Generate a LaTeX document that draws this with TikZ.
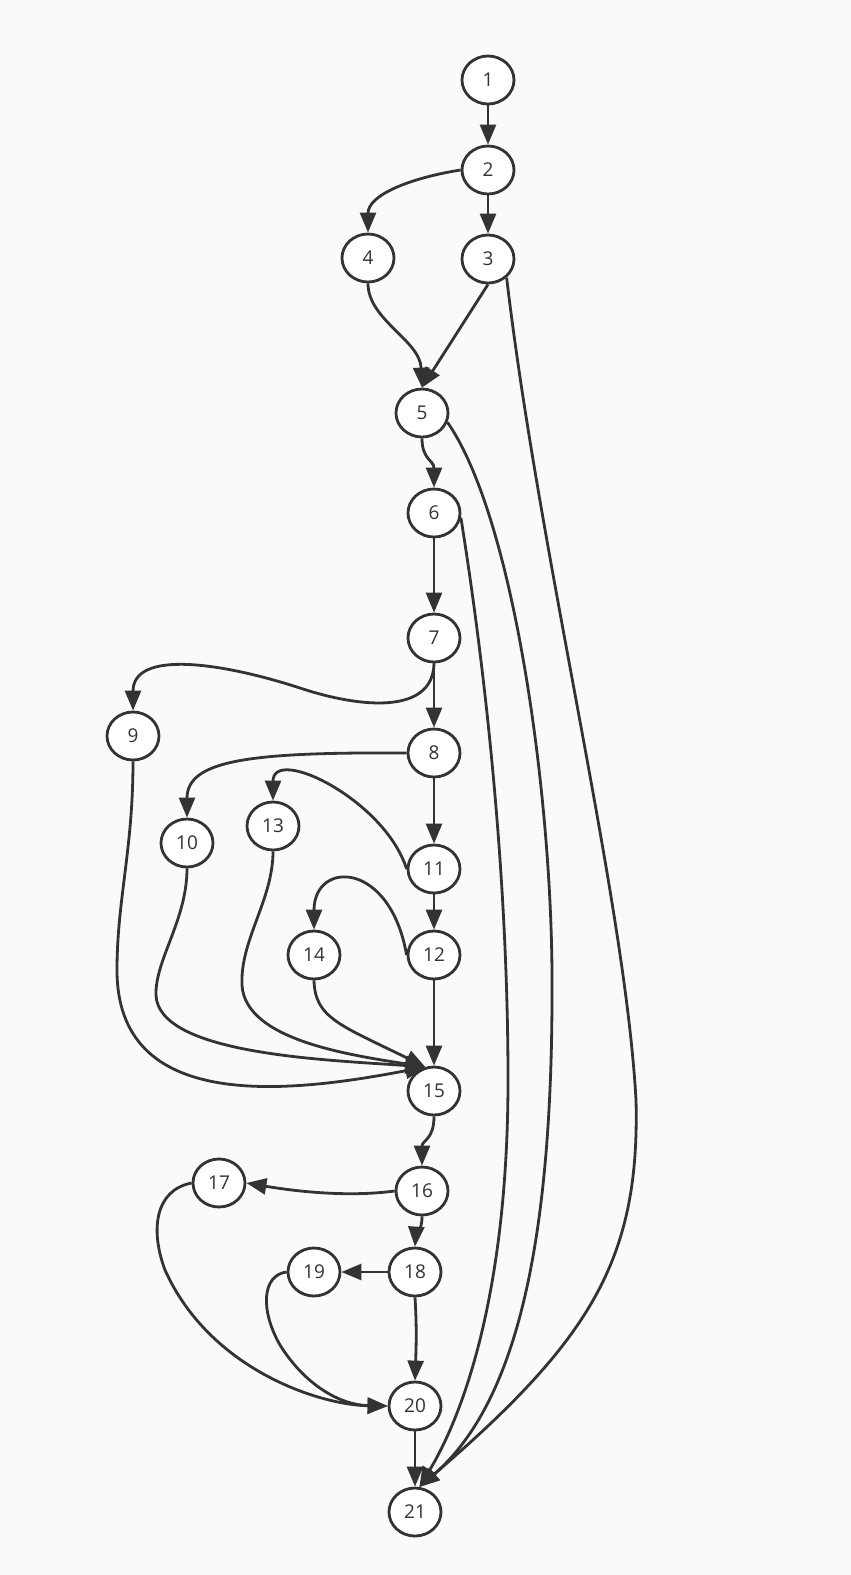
\documentclass[tikz,border=0pt]{standalone}
\usepackage{fontspec}
\setmainfont{Open Sans}
\usetikzlibrary{arrows.meta,shapes.geometric}
\definecolor{bgcol}{HTML}{FAFAFA}
\definecolor{ink}{HTML}{333333}
\tikzset{
  vtx/.style={ellipse,draw=ink,fill=white,line width=2.8pt,minimum width=52pt,minimum height=48pt,inner sep=0pt,text=ink,font=\fontsize{19pt}{21pt}\selectfont},
  edge/.style={draw=ink,line width=2.8pt,-{Triangle[length=20pt,width=16pt]}}
}
\begin{document}
\begin{tikzpicture}[x=1pt,y=-1pt]
\fill[bgcol] (0,0) rectangle (851,1575);
\useasboundingbox (0,0) rectangle (851,1575);
\node[vtx] (n1) at (488,80) {1};
\node[vtx] (n2) at (488,170) {2};
\node[vtx] (n3) at (488,259) {3};
\node[vtx] (n4) at (368,258) {4};
\node[vtx] (n5) at (422,413) {5};
\node[vtx] (n6) at (434,513) {6};
\node[vtx] (n7) at (434,638) {7};
\node[vtx] (n8) at (434,753) {8};
\node[vtx] (n9) at (133,736) {9};
\node[vtx] (n10) at (187,843) {10};
\node[vtx] (n11) at (434,869) {11};
\node[vtx] (n12) at (434,955) {12};
\node[vtx] (n13) at (273,826) {13};
\node[vtx] (n14) at (314,955) {14};
\node[vtx] (n15) at (434,1091) {15};
\node[vtx] (n16) at (422,1191) {16};
\node[vtx] (n17) at (219,1183) {17};
\node[vtx] (n18) at (415,1272) {18};
\node[vtx] (n19) at (314,1272) {19};
\node[vtx] (n20) at (415,1406) {20};
\node[vtx] (n21) at (415,1512) {21};

\path[edge] (n1) -- (n2);
\path[edge] (n2) -- (n3);
\path[edge] (n2.west) .. controls (410,178) and (368,195) .. (n4.north);
\path[edge] (n3.south) -- (n5.north);
\path[edge] (n4.south) .. controls (368,320) and (420,340) .. (n5.north);
\path[edge] (n5.south) .. controls (422,460) and (434,460) .. (n6.north);
\path[edge] (n6) -- (n7);
\path[edge] (n7) -- (n8);
\path[edge] (n7.south) .. controls (433,715) and (360,708) .. (300,688) .. controls (220,662) and (133,650) .. (n9.north);
\path[edge] (n8.west) .. controls (250,752) and (187,760) .. (n10.north);
\path[edge] (n8) -- (n11);
\path[edge] (n11.west) .. controls (385,800) and (273,745) .. (n13.north);
\path[edge] (n11) -- (n12);
\path[edge] (n12.west) .. controls (390,860) and (314,860) .. (n14.north);
\path[edge] (n12) -- (n15);
\path[edge] (n14.south) .. controls (315,1018) and (340,1025) .. (n15.110);
\path[edge] (n13.south) .. controls (273,900) and (240,940) .. (242,985) .. controls (245,1040) and (350,1055) .. (n15.110);
\path[edge] (n10.south) .. controls (187,920) and (155,960) .. (156,995) .. controls (158,1055) and (330,1060) .. (n15.110);
\path[edge] (n9.south) .. controls (133,850) and (117,900) .. (117,970) .. controls (117,1110) and (280,1095) .. (n15.110);
\path[edge] (n15.south) .. controls (434,1140) and (422,1140) .. (n16.north);
\path[edge] (n16.west) .. controls (350,1197) and (300,1192) .. (n17.east);
\path[edge] (n16.south) .. controls (422,1232) and (416,1232) .. (n18.north);
\path[edge] (n18.west) -- (n19.east);
\path[edge] (n18.south) .. controls (417,1330) and (416,1350) .. (n20.north);
\path[edge] (n17.west) .. controls (155,1190) and (150,1230) .. (165,1270) .. controls (210,1370) and (320,1405) .. (n20.west);
\path[edge] (n19.west) .. controls (262,1275) and (260,1310) .. (280,1345) .. controls (305,1385) and (340,1405) .. (n20.west);
\path[edge] (n20) -- (n21);
\path[edge] (n6.-10) .. controls (490,700) and (508,900) .. (508,1080) .. controls (508,1300) and (460,1420) .. (n21.80);
\path[edge] (n5.-20) .. controls (515,520) and (552,800) .. (552,980) .. controls (553,1230) and (520,1400) .. (n21.80);
\path[edge] (n3.-45) .. controls (540,560) and (625,900) .. (636,1100) .. controls (640,1260) and (590,1340) .. (n21.80);
\end{tikzpicture}
\end{document}
